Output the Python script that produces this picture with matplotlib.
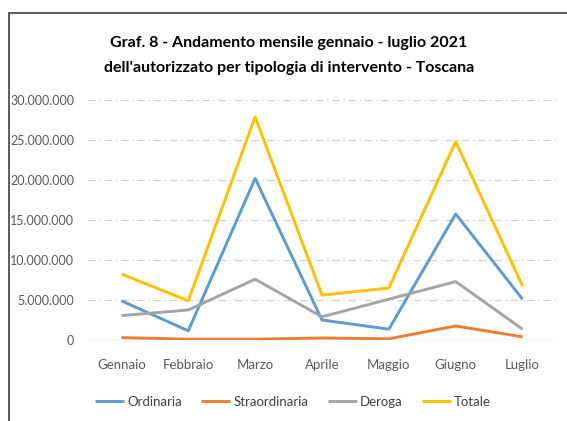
import matplotlib
matplotlib.use("Agg")
import matplotlib.pyplot as plt
from matplotlib.patches import Rectangle
from matplotlib.ticker import FuncFormatter

mesi = ['Gennaio', 'Febbraio', 'Marzo', 'Aprile', 'Maggio', 'Giugno', 'Luglio']
ordinaria = [4.9e6, 1.15e6, 20.2e6, 2.5e6, 1.35e6, 15.75e6, 5.1e6]
straordinaria = [0.3e6, 0.1e6, 0.1e6, 0.25e6, 0.15e6, 1.75e6, 0.4e6]
deroga = [3.05e6, 3.75e6, 7.6e6, 2.9e6, 5.1e6, 7.3e6, 1.35e6]
totale = [8.25e6, 4.9e6, 27.9e6, 5.6e6, 6.5e6, 24.8e6, 6.75e6]
y_ticks = [0, 5e6, 10e6, 15e6, 20e6, 25e6, 30e6]

plt.rcParams['font.family'] = ['Lato', 'DejaVu Sans']

W, H = 567, 421
fig = plt.figure(figsize=(W / 100, H / 100), dpi=100)

# chart border (cut at right/bottom edge like the screenshot)
fig.patches.append(Rectangle((9 / W, -0.05), 1.1, 1 - 13 / H + 0.05,
                             transform=fig.transFigure, fill=False,
                             edgecolor='#404040', linewidth=1.2))

ax = fig.add_axes([88 / W, 1 - 340 / H, 468 / W, 240 / H])
x = list(range(len(mesi)))
series = [
    ('Ordinaria', ordinaria, '#5B9BD5'),
    ('Straordinaria', straordinaria, '#ED7D31'),
    ('Deroga', deroga, '#A5A5A5'),
    ('Totale', totale, '#FFC000'),
]
for name, vals, col in series:
    ax.plot(x, vals, color=col, linewidth=2.1, label=name, solid_capstyle='butt', zorder=3)

ax.set_xlim(-0.5, len(mesi) - 0.5)
ax.set_ylim(0, 30e6)
ax.set_yticks(y_ticks)
ax.yaxis.set_major_formatter(FuncFormatter(lambda v, p: f"{int(v):,}".replace(',', '.')))
ax.set_xticks(x)
ax.set_xticklabels(mesi)
for v in y_ticks[1:]:
    ax.axhline(v, color='#D0D0D0', linewidth=0.9, linestyle=(0, (6, 3, 1, 3)), zorder=1)
ax.axhline(0, color='#D0D0D0', linewidth=1.0, zorder=2)
for s in ax.spines.values():
    s.set_visible(False)
ax.tick_params(axis='x', length=0, labelsize=9.5, colors='#595959', pad=14)
ax.tick_params(axis='y', length=0, labelsize=9, colors='#595959', pad=10)

fig.text(289 / W, 1 - 43 / H, 'Graf. 8 - Andamento mensile gennaio - luglio 2021',
         ha='center', va='center', fontsize=11.5, fontweight='bold', color='#000000')
fig.text(289 / W, 1 - 68 / H, "dell'autorizzato per tipologia di intervento - Toscana",
         ha='center', va='center', fontsize=11.5, fontweight='bold', color='#000000')

leg = fig.legend(loc='center', bbox_to_anchor=(293 / W, 1 - 402 / H), ncol=4, frameon=False,
                 fontsize=9.5, handlelength=2.2, handletextpad=0.2, columnspacing=1.5)
for t in leg.get_texts():
    t.set_color('#404040')

fig.savefig('out.png', dpi=100)
